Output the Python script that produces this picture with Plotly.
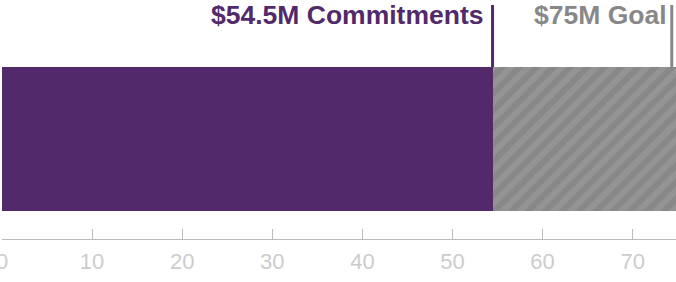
import plotly.graph_objects as go

commitments = 54.5
goal = 75
commit_label = "$54.5M Commitments"
goal_label = "$75M Goal"
tick_vals = [0, 10, 20, 30, 40, 50, 60, 70]

PURPLE = "#522a6b"
GRAY = "#888888"
X_MAX = 674 / 9.01

fig = go.Figure()
fig.add_trace(go.Bar(
    x=[goal - commitments], y=[0], base=[commitments], orientation="h", width=1,
    marker=dict(color=GRAY, line=dict(width=0),
                pattern=dict(shape="/", fgcolor="#a0a0a0", bgcolor=GRAY, size=12, solidity=0.5)),
    hoverinfo="skip", showlegend=False))
fig.add_trace(go.Bar(
    x=[commitments], y=[0], base=[0], orientation="h", width=1,
    marker=dict(color=PURPLE, line=dict(width=0)),
    hoverinfo="skip", showlegend=False))

shapes = [
    dict(type="rect", xref="x", yref="paper", xsizemode="pixel", ysizemode="pixel",
         xanchor=commitments, x0=-2, x1=1, yanchor=1, y0=0, y1=62,
         fillcolor=PURPLE, line=dict(width=0), layer="above"),
    dict(type="rect", xref="x", yref="paper", xsizemode="pixel", ysizemode="pixel",
         xanchor=goal, x0=-7.5, x1=-4.5, yanchor=1, y0=0, y1=62,
         fillcolor=GRAY, line=dict(width=0), layer="above"),
]

FONT = "Liberation Sans, Arial, Helvetica, sans-serif"
annotations = [
    dict(x=commitments / X_MAX, xref="paper", y=1, yref="paper", yshift=35, xshift=-8,
         xanchor="right", yanchor="bottom", text="<b>%s</b>" % commit_label, showarrow=False,
         font=dict(family=FONT, size=26.5, color=PURPLE)),
    dict(x=goal / X_MAX, xref="paper", y=1, yref="paper", yshift=35, xshift=-9,
         xanchor="right", yanchor="bottom", text="<b>%s</b>" % goal_label, showarrow=False,
         font=dict(family=FONT, size=26.5, color=GRAY)),
]

fig.update_layout(
    width=676, height=282,
    margin=dict(l=2, r=0, t=67, b=43),
    paper_bgcolor="white", plot_bgcolor="white",
    barmode="overlay", bargap=0,
    shapes=shapes, annotations=annotations,
    xaxis=dict(range=[0, X_MAX], tickvals=tick_vals, ticks="inside", ticklen=10,
               tickcolor="#bbbbbb", tickwidth=1, showline=True, linecolor="#bbbbbb", linewidth=1,
               showgrid=False, zeroline=False, ticklabeloverflow="allow", ticklabelstandoff=3,
               automargin=False,
               tickfont=dict(family=FONT, size=22, color="#cccccc")),
    yaxis=dict(range=[-0.5 - 28 / 144, 0.5], visible=False, fixedrange=True),
)

fig.write_html("out.html")
